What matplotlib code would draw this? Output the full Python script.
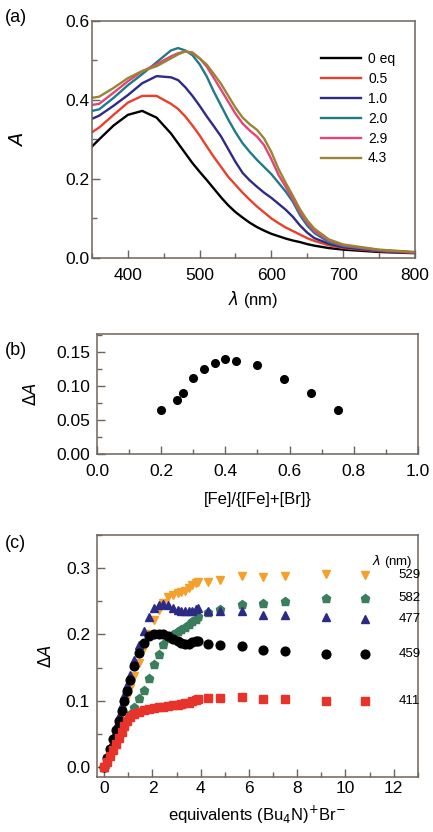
import matplotlib
matplotlib.use('Agg')
import matplotlib.pyplot as plt
from matplotlib.ticker import MultipleLocator, FormatStrFormatter

plt.rcParams['font.family'] = ['Liberation Sans', 'DejaVu Sans']
plt.rcParams['mathtext.fontset'] = 'dejavusans'

# (a) absorption spectra
wl = [350, 360, 380, 400, 420, 440, 460, 470, 480, 490, 500, 510, 520, 530, 540, 550,
      560, 570, 580, 590, 600, 610, 620, 630, 640, 650, 660, 680, 700, 750, 800]
a_0 = [.282, .30, .335, .362, .372, .355, .315, .29, .265, .24, .218, .197, .175, .153, .133, .116,
       .102, .089, .078, .069, .061, .055, .049, .044, .04, .035, .031, .025, .021, .015, .012]
a_05 = [.318, .33, .362, .393, .41, .41, .39, .377, .358, .335, .31, .282, .255, .23, .205, .185,
        .165, .147, .13, .115, .10, .088, .077, .068, .059, .05, .043, .032, .025, .017, .013]
a_10 = [.352, .36, .385, .412, .442, .46, .457, .45, .432, .41, .385, .358, .333, .307, .275, .243,
        .215, .196, .18, .165, .152, .137, .122, .104, .082, .064, .05, .036, .027, .018, .014]
a_20 = [.372, .376, .405, .437, .465, .495, .525, .531, .525, .513, .49, .459, .42, .385, .35, .318,
        .29, .268, .248, .23, .212, .19, .168, .142, .108, .082, .063, .04, .03, .019, .014]
a_29 = [.387, .39, .418, .447, .472, .49, .51, .518, .522, .52, .505, .484, .455, .425, .395, .365,
        .34, .322, .307, .285, .25, .21, .18, .148, .115, .089, .068, .044, .032, .02, .014]
a_43 = [.405, .408, .43, .455, .473, .485, .505, .515, .523, .518, .505, .489, .465, .44, .41, .38,
        .355, .338, .324, .302, .268, .225, .19, .157, .123, .095, .074, .047, .034, .021, .015]
spec_labels = ['0 eq', '0.5', '1.0', '2.0', '2.9', '4.3']
spec_colors = ['black', '#e8402a', '#2e2a86', '#1f7a8a', '#e2457a', '#9a8432']

# (b) Job plot
job_x = [0.2, 0.25, 0.267, 0.3, 0.333, 0.367, 0.4, 0.433, 0.5, 0.583, 0.667, 0.75]
job_y = [0.064, 0.079, 0.090, 0.112, 0.125, 0.134, 0.139, 0.137, 0.130, 0.110, 0.090, 0.064]

# (c) titration
eq = [0.0, 0.12, 0.24, 0.36, 0.48, 0.6, 0.72, 0.84, 0.96, 1.08, 1.25, 1.45, 1.65,
      1.85, 2.05, 2.25, 2.45, 2.65, 2.85, 3.05, 3.2, 3.35, 3.5, 3.65, 3.8, 3.9,
      4.32, 4.8, 5.7, 6.6, 7.5, 9.2, 10.8]
d529 = [0, .013, .026, .04, .053, .066, .08, .093, .106, .12, .137, .157, .18,
        .2, .222, .237, .248, .256, .26, .262, .264, .266, .27, .274, .277, .279,
        .279, .282, .288, .286, .288, .291, .290]
d582 = [0, .009, .018, .027, .036, .045, .054, .063, .072, .08, .09, .104, .116,
        .135, .155, .17, .185, .195, .2, .205, .208, .212, .216, .22, .224, .228,
        .234, .238, .246, .247, .25, .255, .255]
d477 = [0, .016, .031, .046, .062, .077, .093, .108, .124, .139, .162, .184, .205,
        .226, .24, .245, .246, .245, .24, .237, .235, .235, .235, .236, .238, .24,
        .236, .236, .236, .229, .229, .227, .224]
d459 = [0, .014, .028, .042, .056, .07, .085, .1, .115, .132, .152, .172, .187,
        .197, .2, .2, .2, .197, .193, .19, .187, .186, .186, .188, .19, .19,
        .186, .184, .183, .176, .175, .171, .170]
d411 = [0, .008, .017, .026, .035, .044, .053, .062, .07, .076, .08, .083, .086,
        .088, .089, .09, .091, .092, .093, .094, .095, .096, .097, .099, .101, .103,
        .104, .104, .106, .102, .102, .100, .100]
tit_names = ['529', '582', '477', '459', '411']
tit_colors = ['#f5a02c', '#3a7e5e', '#2b2a85', 'black', '#e8332a']
tit_markers = ['v', 'p', '^', 'o', 's']

spine_col = '#6e655c'

fig = plt.figure(figsize=(4.33, 8.32), dpi=100)
ax1 = fig.add_axes([0.2125, 0.690, 0.7455, 0.285])
ax2 = fig.add_axes([0.224, 0.4543, 0.741, 0.1443])
ax3 = fig.add_axes([0.224, 0.066, 0.741, 0.291])


def style(ax, xpad, ypad):
    for s in ax.spines.values():
        s.set_color(spine_col)
        s.set_linewidth(1.1)
    ax.tick_params(which='both', direction='in', top=False, right=False,
                   color=spine_col, labelsize=12.5)
    ax.tick_params(which='major', length=6, width=1)
    ax.tick_params(which='minor', length=3.5, width=1)
    ax.tick_params(axis='x', which='both', pad=xpad)
    ax.tick_params(axis='y', which='both', pad=ypad)


# (a)
for ys, lab, c in zip([a_0, a_05, a_10, a_20, a_29, a_43], spec_labels, spec_colors):
    ax1.plot(wl, ys, color=c, lw=1.7, label=lab)
ax1.set_xlim(350, 800)
ax1.set_ylim(0, 0.6)
ax1.xaxis.set_major_locator(MultipleLocator(100))
ax1.xaxis.set_minor_locator(MultipleLocator(50))
ax1.yaxis.set_major_locator(MultipleLocator(0.2))
ax1.yaxis.set_minor_locator(MultipleLocator(0.1))
ax1.yaxis.set_major_formatter(FormatStrFormatter('%.1f'))
style(ax1, 7, 2)
ax1.set_ylabel('$A$', fontsize=14)
ax1.yaxis.set_label_coords(-0.2, 0.5)
ax1.set_xlabel(r'$\lambda$ (nm)', fontsize=12)
ax1.xaxis.set_label_coords(0.5, -0.13)
ax1.legend(loc='upper left', bbox_to_anchor=(0.67, 0.92), frameon=False,
           fontsize=10, handlelength=2.9, labelspacing=0.42, handletextpad=0.5)
fig.text(0.012, 0.979, '(a)', fontsize=13, va='center')

# (b)
ax2.plot(job_x, job_y, 'o', color='black', ms=5.5)
ax2.set_xlim(0, 1.0)
ax2.set_ylim(0, 0.176)
ax2.xaxis.set_major_locator(MultipleLocator(0.2))
ax2.xaxis.set_minor_locator(MultipleLocator(0.1))
ax2.yaxis.set_major_locator(MultipleLocator(0.05))
ax2.yaxis.set_minor_locator(MultipleLocator(0.025))
ax2.xaxis.set_major_formatter(FormatStrFormatter('%.1f'))
ax2.yaxis.set_major_formatter(FormatStrFormatter('%.2f'))
style(ax2, 7, 5)
ax2.set_ylabel(r'$\Delta A$', fontsize=12)
ax2.yaxis.set_label_coords(-0.18, 0.5)
ax2.set_xlabel('[Fe]/{[Fe]+[Br]}', fontsize=12)
ax2.xaxis.set_label_coords(0.5, -0.32)
fig.text(0.012, 0.579, '(b)', fontsize=13, va='center')

# (c)
for ys, name, c, m in zip([d529, d582, d477, d459, d411], tit_names, tit_colors, tit_markers):
    ax3.plot(eq, ys, m, color=c, ms=6.3, mec=c)
    ax3.text(12.2, ys[-1], name, fontsize=9.5, va='center', ha='left')
ax3.text(11.1, 0.31, r'$\lambda$ (nm)', fontsize=9.5, va='center', ha='left')
ax3.set_xlim(-0.3, 13.0)
ax3.set_ylim(-0.015, 0.35)
ax3.xaxis.set_major_locator(MultipleLocator(2))
ax3.xaxis.set_minor_locator(MultipleLocator(1))
ax3.yaxis.set_major_locator(MultipleLocator(0.1))
ax3.yaxis.set_minor_locator(MultipleLocator(0.05))
ax3.yaxis.set_major_formatter(FormatStrFormatter('%.1f'))
style(ax3, 3, 5)
ax3.set_ylabel(r'$\Delta A$', fontsize=12)
ax3.yaxis.set_label_coords(-0.135, 0.5)
ax3.set_xlabel(r'equivalents (Bu$_4$N)$^{+}$Br$^{-}$', fontsize=12)
ax3.xaxis.set_label_coords(0.5, -0.11)
fig.text(0.012, 0.347, '(c)', fontsize=13, va='center')

fig.savefig('out.png', dpi=100)
